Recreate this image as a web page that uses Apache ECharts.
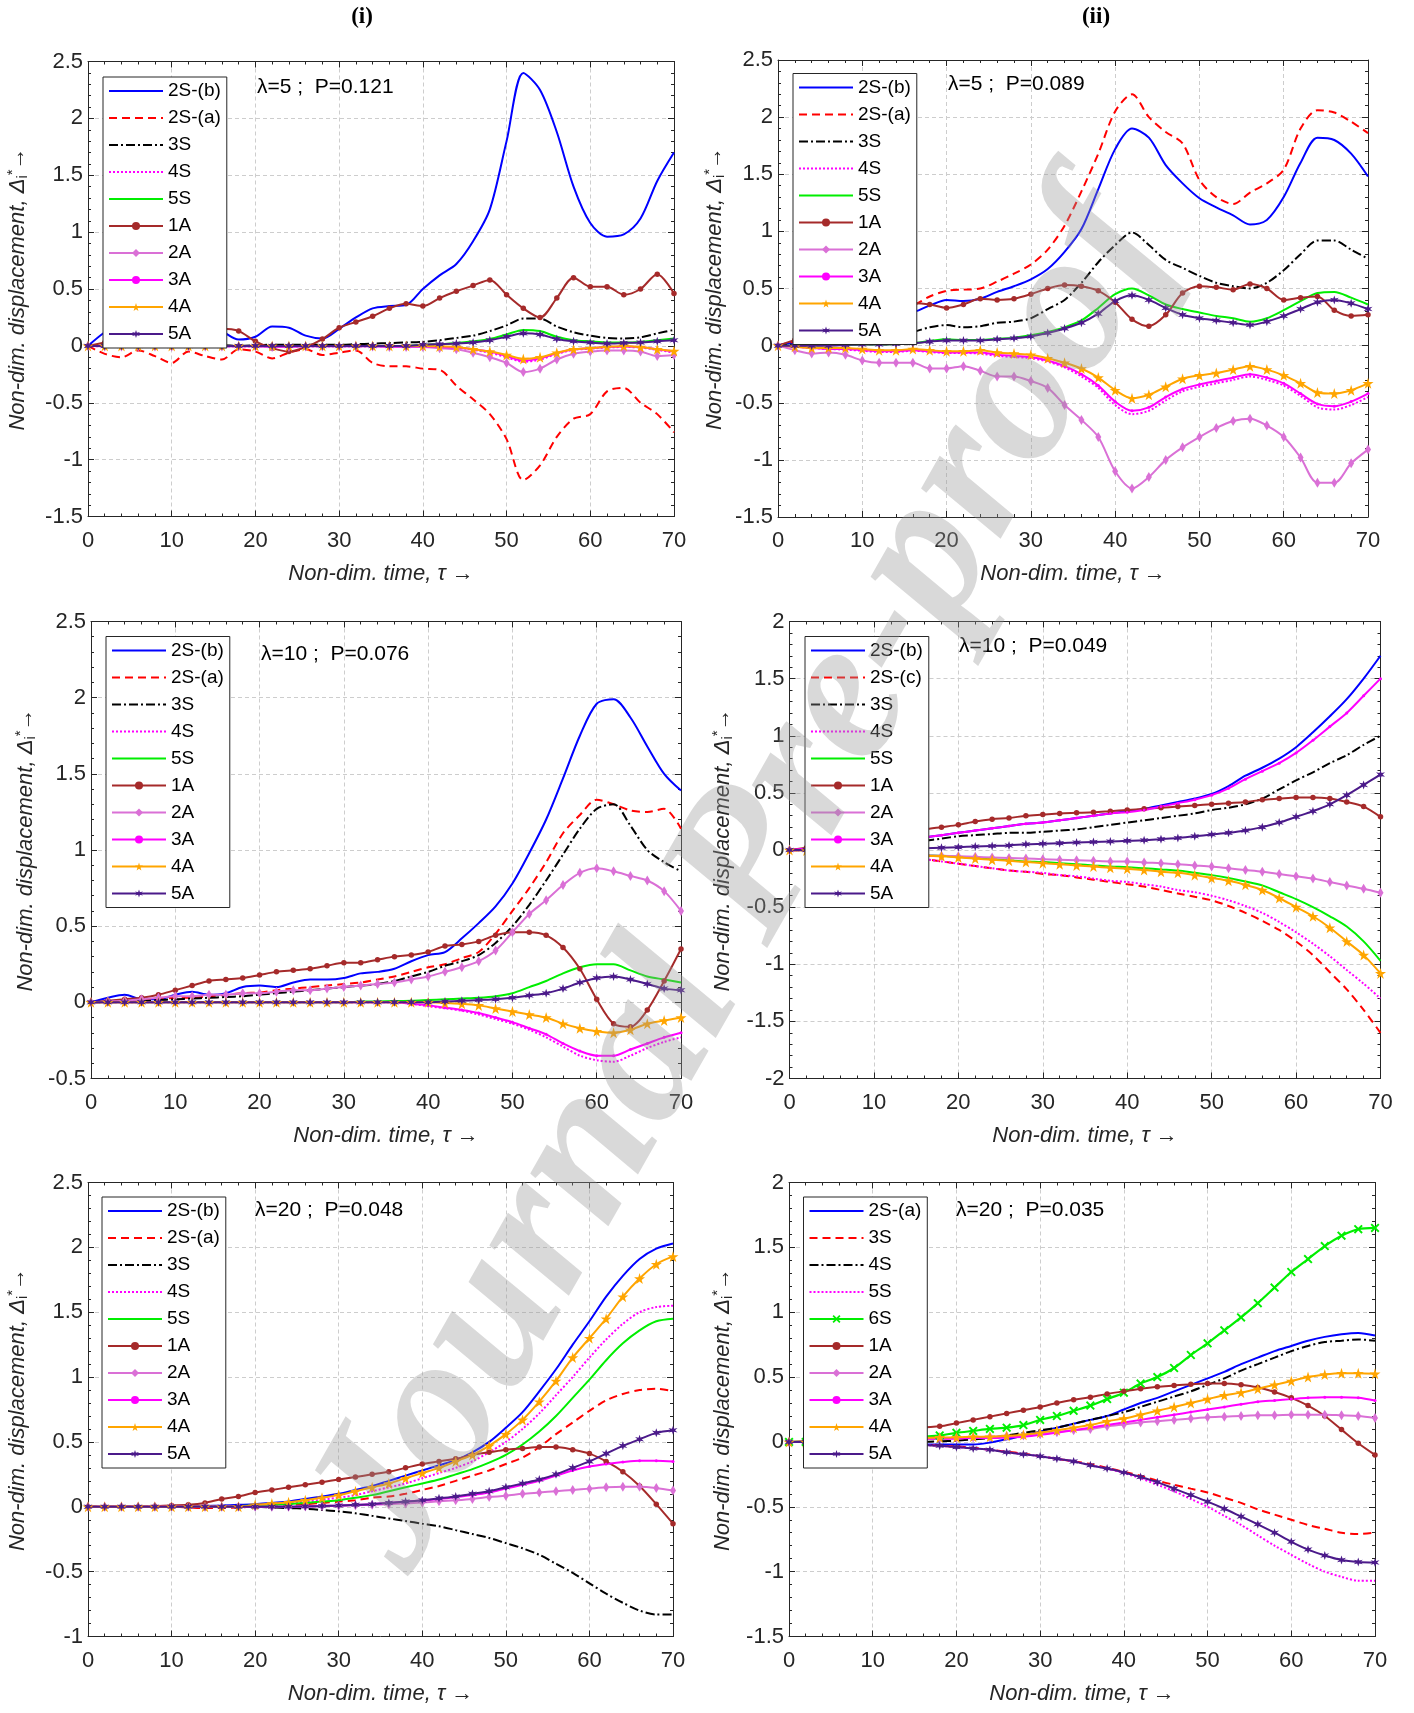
<!DOCTYPE html>
<html>
<head>
<meta charset="utf-8">
<script src="https://cdn.jsdelivr.net/npm/echarts@6/dist/echarts.min.js"></script>
<style>
html,body{margin:0;padding:0;background:#fff}
#chart{width:1414px;height:1713px}
</style>
</head>
<body>
<div id="chart"></div>
<script>
// Non-dimensional time samples shared by every panel
const tau = [0,2,4,6,8,10,12,14,16,18,20,22,24,26,28,30,32,34,36,38,40,42,44,46,48,50,52,54,56,58,60,62,64,66,68,70];
const xTicks = [0,10,20,30,40,50,60,70];

// ---- (i) lambda=5, P=0.121 ----
const p1_2Sb = [0,0.12,0.2,0.22,0.2,0.17,0.2,0.2,0.13,0.055,0.08,0.17,0.16,0.09,0.065,0.15,0.25,0.33,0.35,0.36,0.5,0.62,0.72,0.92,1.2,1.8,2.4,2.25,1.88,1.4,1.08,0.96,0.98,1.12,1.45,1.7];
const p1_2Sa = [0,-0.07,-0.1,-0.04,-0.09,-0.15,-0.05,-0.09,-0.12,-0.03,-0.05,-0.11,-0.06,-0.03,-0.08,-0.06,-0.04,-0.15,-0.18,-0.18,-0.2,-0.21,-0.35,-0.47,-0.6,-0.82,-1.18,-1.05,-0.8,-0.64,-0.6,-0.4,-0.37,-0.5,-0.6,-0.76];
const p1_3S  = [0,0,0.005,0,0.005,0,0.005,0,0.005,0,0.005,0.01,0.01,0.01,0.01,0.01,0.015,0.02,0.025,0.03,0.035,0.05,0.07,0.09,0.13,0.18,0.24,0.24,0.17,0.12,0.09,0.07,0.065,0.075,0.11,0.14];
const p1_4S  = [0,-0.005,-0.005,-0.005,-0.005,-0.005,-0.005,-0.005,-0.005,-0.005,-0.005,-0.005,-0.01,-0.005,-0.005,-0.005,-0.005,-0.005,-0.005,-0.005,-0.005,-0.01,-0.015,-0.035,-0.06,-0.1,-0.14,-0.12,-0.07,-0.035,-0.025,-0.015,-0.01,-0.015,-0.035,-0.06];
const p1_5S  = [0,0,0,0,0,0,0,0,0,0,0,0,0,0,0,0,0,0,0,0,0.01,0.015,0.025,0.04,0.06,0.1,0.14,0.13,0.08,0.05,0.04,0.03,0.03,0.035,0.05,0.065];
const p1_1A  = [0,0.03,0.06,0.08,0.1,0.12,0.13,0.15,0.15,0.13,0.04,-0.02,-0.05,-0.01,0.06,0.16,0.21,0.26,0.33,0.37,0.35,0.42,0.48,0.53,0.58,0.45,0.33,0.25,0.42,0.6,0.52,0.52,0.45,0.5,0.63,0.46];
const p1_2A  = [0,-0.005,-0.005,-0.005,-0.005,-0.005,-0.005,-0.005,-0.005,-0.005,-0.005,-0.01,-0.01,-0.005,-0.005,-0.005,-0.005,-0.005,-0.01,-0.01,-0.01,-0.02,-0.03,-0.06,-0.1,-0.15,-0.23,-0.2,-0.12,-0.07,-0.05,-0.04,-0.04,-0.05,-0.09,-0.08];
const p1_3A  = [0,0,0,0,0,0,0,0,0,0,0,-0.005,-0.005,0,0,0,0,0,-0.005,-0.005,-0.005,-0.01,-0.015,-0.03,-0.05,-0.09,-0.13,-0.11,-0.065,-0.03,-0.02,-0.01,-0.005,-0.01,-0.03,-0.05];
const p1_4A  = [0,0,0,0,0,0,0,0,0,0,0,0,0,0,0,0,0,0,0,0,0,-0.005,-0.01,-0.03,-0.05,-0.08,-0.115,-0.1,-0.06,-0.03,-0.02,-0.01,0,-0.01,-0.03,-0.045];
const p1_5A  = [0,0,0,0,0,0,0,0,0,0,0,0,0,0,0,0,0,0,0,0,0.01,0.015,0.02,0.03,0.05,0.08,0.11,0.1,0.06,0.04,0.03,0.02,0.025,0.03,0.04,0.05];

// ---- (ii) lambda=5, P=0.089 ----
const p2_2Sb = [0,0.03,0.06,0.09,0.12,0.15,0.19,0.24,0.29,0.35,0.4,0.39,0.41,0.47,0.52,0.58,0.67,0.82,1.02,1.37,1.72,1.9,1.82,1.58,1.42,1.29,1.21,1.14,1.06,1.1,1.3,1.6,1.82,1.8,1.68,1.48];
const p2_2Sa = [0,0.04,0.08,0.12,0.16,0.2,0.24,0.3,0.35,0.43,0.48,0.49,0.5,0.56,0.63,0.71,0.84,1.05,1.35,1.68,2.05,2.2,2.0,1.87,1.77,1.45,1.3,1.24,1.34,1.42,1.54,1.9,2.06,2.04,1.96,1.86];
const p2_3S  = [0,0.01,0.02,0.03,0.04,0.05,0.07,0.1,0.12,0.16,0.18,0.16,0.17,0.2,0.21,0.24,0.32,0.4,0.55,0.73,0.88,0.99,0.88,0.75,0.68,0.61,0.55,0.52,0.5,0.55,0.66,0.8,0.92,0.92,0.84,0.76];
const p2_4S  = [0,-0.01,-0.02,-0.03,-0.035,-0.045,-0.055,-0.055,-0.045,-0.055,-0.065,-0.065,-0.07,-0.09,-0.1,-0.11,-0.14,-0.19,-0.27,-0.37,-0.52,-0.6,-0.57,-0.48,-0.4,-0.36,-0.33,-0.3,-0.27,-0.3,-0.35,-0.44,-0.54,-0.56,-0.52,-0.45];
const p2_5S  = [0,0,0,0.005,0.005,0.01,0.01,0.015,0.02,0.04,0.055,0.05,0.05,0.06,0.07,0.09,0.12,0.16,0.22,0.33,0.45,0.5,0.44,0.36,0.32,0.29,0.26,0.24,0.21,0.24,0.31,0.39,0.46,0.47,0.42,0.36];
const p2_1A  = [0,0.05,0.1,0.15,0.2,0.25,0.3,0.35,0.37,0.36,0.33,0.36,0.41,0.4,0.41,0.45,0.5,0.53,0.52,0.48,0.38,0.23,0.17,0.27,0.46,0.52,0.51,0.49,0.54,0.5,0.4,0.42,0.43,0.31,0.26,0.27];
const p2_2A  = [0,-0.04,-0.07,-0.06,-0.08,-0.13,-0.15,-0.15,-0.15,-0.2,-0.2,-0.18,-0.22,-0.27,-0.27,-0.31,-0.37,-0.52,-0.65,-0.8,-1.1,-1.25,-1.15,-1.0,-0.89,-0.8,-0.72,-0.66,-0.64,-0.7,-0.8,-0.98,-1.2,-1.2,-1.03,-0.91];
const p2_3A  = [0,-0.01,-0.02,-0.03,-0.03,-0.04,-0.05,-0.05,-0.04,-0.05,-0.06,-0.06,-0.06,-0.08,-0.09,-0.1,-0.13,-0.18,-0.25,-0.35,-0.49,-0.57,-0.54,-0.45,-0.38,-0.34,-0.31,-0.28,-0.25,-0.28,-0.33,-0.42,-0.51,-0.53,-0.49,-0.42];
const p2_4A  = [0,-0.01,-0.02,-0.02,-0.02,-0.03,-0.04,-0.04,-0.03,-0.04,-0.05,-0.05,-0.04,-0.06,-0.07,-0.08,-0.11,-0.15,-0.2,-0.28,-0.39,-0.46,-0.43,-0.36,-0.29,-0.26,-0.24,-0.21,-0.18,-0.21,-0.26,-0.33,-0.41,-0.42,-0.39,-0.33];
const p2_5A  = [0,0,0,0,0.005,0.01,0.01,0.015,0.02,0.035,0.045,0.045,0.045,0.055,0.065,0.08,0.11,0.15,0.2,0.28,0.39,0.44,0.4,0.33,0.27,0.24,0.22,0.2,0.18,0.21,0.26,0.32,0.38,0.4,0.37,0.32];

// ---- (iii) lambda=10, P=0.076 ----
const p3_2Sb = [0,0.03,0.05,0.02,0.02,0.05,0.07,0.05,0.06,0.1,0.11,0.1,0.13,0.15,0.15,0.16,0.19,0.2,0.22,0.27,0.31,0.33,0.42,0.52,0.63,0.78,0.98,1.2,1.47,1.75,1.96,1.99,1.87,1.68,1.5,1.39];
const p3_2Sa = [0,0.005,0.01,0.02,0.02,0.03,0.03,0.04,0.05,0.06,0.065,0.08,0.09,0.1,0.11,0.12,0.13,0.15,0.17,0.2,0.23,0.25,0.29,0.33,0.45,0.6,0.75,0.92,1.11,1.23,1.33,1.3,1.26,1.25,1.27,1.14];
const p3_3S  = [0,0,0.005,0.01,0.015,0.02,0.025,0.03,0.035,0.04,0.05,0.06,0.07,0.08,0.09,0.1,0.11,0.12,0.14,0.17,0.2,0.24,0.27,0.31,0.39,0.5,0.64,0.8,0.97,1.14,1.27,1.3,1.16,1.0,0.92,0.86];
const p3_4S  = [0,0,0,0,0,0,0,0,0,0,0,0,0,0,0,0,0,0,0,-0.01,-0.025,-0.04,-0.055,-0.08,-0.11,-0.14,-0.18,-0.23,-0.29,-0.35,-0.38,-0.39,-0.35,-0.3,-0.26,-0.23];
const p3_5S  = [0,0,0,0,0,0,0,0,0,0,0,0,0,0,0,0,0.005,0.006,0.008,0.01,0.015,0.02,0.025,0.03,0.04,0.06,0.1,0.14,0.19,0.23,0.25,0.25,0.21,0.17,0.15,0.13];
const p3_1A  = [0,0.01,0.02,0.03,0.05,0.08,0.11,0.14,0.15,0.16,0.18,0.2,0.21,0.22,0.24,0.26,0.26,0.28,0.3,0.31,0.33,0.37,0.38,0.4,0.44,0.46,0.46,0.44,0.36,0.22,0.02,-0.14,-0.16,-0.05,0.14,0.35];
const p3_2A  = [0,0.005,0.01,0.02,0.03,0.04,0.04,0.05,0.05,0.06,0.06,0.07,0.08,0.08,0.09,0.1,0.11,0.12,0.13,0.15,0.17,0.2,0.23,0.27,0.34,0.46,0.58,0.67,0.77,0.85,0.88,0.86,0.83,0.8,0.73,0.6];
const p3_3A  = [0,0,0,0,0,0,0,0,0,0,0,0,0,0,0,0,0,0,0,-0.01,-0.02,-0.035,-0.05,-0.07,-0.1,-0.13,-0.17,-0.21,-0.27,-0.32,-0.35,-0.35,-0.31,-0.27,-0.23,-0.2];
const p3_4A  = [0,0,0,0,0,0,0,0,0,0,0,0,0,0,0,0,0,0,0,0,0,-0.005,-0.01,-0.02,-0.04,-0.06,-0.08,-0.1,-0.14,-0.17,-0.19,-0.2,-0.18,-0.14,-0.12,-0.1];
const p3_5A  = [0,0,0,0,0,0,0,0,0,0,0,0,0,0,0,0,0,0,0,0,0,0.005,0.01,0.015,0.02,0.03,0.045,0.06,0.09,0.13,0.16,0.17,0.15,0.12,0.09,0.08];

// ---- (iv) lambda=10, P=0.049 ----
const p4_2Sb = [0,0.01,0.02,0.03,0.04,0.06,0.07,0.09,0.11,0.13,0.15,0.17,0.19,0.21,0.23,0.24,0.26,0.28,0.3,0.32,0.34,0.36,0.39,0.42,0.45,0.49,0.56,0.65,0.72,0.8,0.9,1.03,1.17,1.32,1.5,1.7];
const p4_2Sc = [0,-0.01,-0.02,-0.03,-0.04,-0.05,-0.06,-0.07,-0.08,-0.1,-0.12,-0.14,-0.16,-0.18,-0.19,-0.21,-0.22,-0.24,-0.26,-0.28,-0.3,-0.32,-0.35,-0.38,-0.41,-0.44,-0.49,-0.55,-0.62,-0.7,-0.8,-0.92,-1.07,-1.22,-1.4,-1.6];
const p4_3S  = [0,0.005,0.01,0.02,0.03,0.04,0.05,0.06,0.08,0.1,0.12,0.13,0.14,0.15,0.15,0.16,0.17,0.18,0.2,0.22,0.24,0.26,0.28,0.3,0.32,0.35,0.37,0.4,0.45,0.53,0.61,0.68,0.76,0.83,0.92,1.0];
const p4_4S  = [0,-0.01,-0.02,-0.03,-0.04,-0.05,-0.06,-0.07,-0.08,-0.1,-0.12,-0.14,-0.16,-0.18,-0.19,-0.2,-0.22,-0.23,-0.25,-0.27,-0.28,-0.3,-0.32,-0.35,-0.37,-0.4,-0.44,-0.49,-0.55,-0.63,-0.72,-0.82,-0.93,-1.05,-1.17,-1.3];
const p4_5S  = [0,-0.005,-0.01,-0.015,-0.02,-0.025,-0.03,-0.035,-0.045,-0.05,-0.06,-0.07,-0.08,-0.09,-0.1,-0.105,-0.115,-0.125,-0.135,-0.145,-0.15,-0.16,-0.17,-0.18,-0.2,-0.22,-0.245,-0.275,-0.31,-0.37,-0.43,-0.5,-0.58,-0.67,-0.8,-0.97];
const p4_1A  = [0,0.02,0.04,0.06,0.08,0.1,0.13,0.15,0.18,0.2,0.22,0.25,0.27,0.28,0.3,0.31,0.32,0.325,0.33,0.34,0.35,0.36,0.37,0.38,0.39,0.4,0.41,0.42,0.44,0.45,0.46,0.46,0.45,0.42,0.38,0.29];
const p4_2A  = [0,-0.005,-0.01,-0.015,-0.02,-0.03,-0.035,-0.04,-0.045,-0.05,-0.055,-0.06,-0.065,-0.07,-0.075,-0.08,-0.085,-0.09,-0.095,-0.1,-0.1,-0.11,-0.115,-0.125,-0.135,-0.145,-0.16,-0.175,-0.19,-0.21,-0.23,-0.25,-0.28,-0.31,-0.34,-0.375];
const p4_3A  = [0,0.01,0.02,0.03,0.04,0.06,0.07,0.09,0.11,0.13,0.15,0.17,0.19,0.21,0.23,0.24,0.26,0.28,0.3,0.32,0.33,0.35,0.38,0.41,0.44,0.48,0.54,0.62,0.69,0.76,0.85,0.96,1.08,1.2,1.35,1.5];
const p4_4A  = [0,-0.005,-0.01,-0.015,-0.02,-0.03,-0.035,-0.04,-0.05,-0.055,-0.065,-0.075,-0.085,-0.095,-0.105,-0.115,-0.125,-0.135,-0.145,-0.155,-0.165,-0.175,-0.19,-0.2,-0.22,-0.245,-0.27,-0.305,-0.35,-0.42,-0.5,-0.58,-0.68,-0.8,-0.92,-1.08];
const p4_5A  = [0,0,0,0.005,0.005,0.01,0.01,0.01,0.015,0.02,0.025,0.03,0.035,0.04,0.05,0.055,0.06,0.065,0.07,0.075,0.08,0.085,0.095,0.105,0.12,0.135,0.15,0.17,0.2,0.24,0.29,0.34,0.4,0.48,0.57,0.66];

// ---- (v) lambda=20, P=0.048 ----
const p5_2Sb = [0,0,0,0,0,0.002,0.004,0.006,0.01,0.015,0.02,0.03,0.04,0.06,0.08,0.1,0.13,0.16,0.2,0.24,0.28,0.32,0.36,0.42,0.5,0.61,0.73,0.89,1.06,1.25,1.43,1.62,1.78,1.91,1.99,2.03];
const p5_2Sa = [0,0,0,0,0,0,-0.005,-0.01,-0.01,-0.005,0,0.005,0.01,0.02,0.03,0.04,0.05,0.07,0.08,0.1,0.13,0.16,0.2,0.24,0.28,0.33,0.38,0.46,0.56,0.65,0.74,0.82,0.87,0.9,0.91,0.89];
const p5_3S  = [0,0,0,0,0,0,0,0,0,0,0,-0.005,-0.01,-0.015,-0.025,-0.035,-0.05,-0.07,-0.09,-0.11,-0.13,-0.15,-0.18,-0.21,-0.24,-0.28,-0.32,-0.37,-0.44,-0.51,-0.59,-0.67,-0.74,-0.8,-0.83,-0.83];
const p5_4S  = [0,0,0,0,0,0,0,0,0,0.005,0.01,0.02,0.03,0.04,0.055,0.07,0.09,0.12,0.15,0.18,0.22,0.26,0.3,0.35,0.42,0.5,0.6,0.72,0.86,1.0,1.15,1.29,1.41,1.5,1.54,1.55];
const p5_5S  = [0,0,0,0,0,0,0,0,0,0.005,0.01,0.015,0.02,0.03,0.04,0.05,0.07,0.09,0.12,0.15,0.18,0.21,0.25,0.29,0.34,0.4,0.48,0.58,0.7,0.84,0.98,1.13,1.26,1.36,1.43,1.45];
const p5_1A  = [0,0,0,0,0.005,0.01,0.015,0.03,0.06,0.08,0.11,0.13,0.15,0.17,0.19,0.21,0.23,0.25,0.27,0.3,0.33,0.35,0.37,0.4,0.42,0.44,0.45,0.46,0.46,0.44,0.41,0.35,0.27,0.16,0.02,-0.13];
const p5_2A  = [0,0,0,0,0,0,0,0,0,0,0,0,0,0.003,0.005,0.008,0.012,0.016,0.02,0.026,0.033,0.042,0.05,0.06,0.075,0.085,0.1,0.11,0.12,0.13,0.14,0.15,0.155,0.155,0.145,0.125];
const p5_3A  = [0,0,0,0,0,0,0,0,0,0,0,0,0,0.003,0.006,0.01,0.015,0.02,0.03,0.04,0.05,0.06,0.075,0.09,0.11,0.14,0.17,0.2,0.24,0.28,0.31,0.33,0.345,0.355,0.355,0.35];
const p5_4A  = [0,0,0,0,0,0,0,0,0,0,0.015,0.025,0.035,0.05,0.07,0.09,0.12,0.15,0.18,0.22,0.26,0.3,0.35,0.4,0.47,0.56,0.67,0.81,0.97,1.15,1.3,1.45,1.62,1.76,1.87,1.93];
const p5_5A  = [0,0,0,0,0,0,0,0,0,0,0,0,0,0.003,0.006,0.01,0.015,0.02,0.03,0.04,0.05,0.065,0.08,0.1,0.12,0.15,0.18,0.21,0.25,0.3,0.35,0.41,0.47,0.52,0.57,0.59];

// ---- (vi) lambda=20, P=0.035 ----
const p6_2Sa = [0,0,0,0,-0.005,-0.01,-0.015,-0.02,-0.02,-0.02,-0.02,-0.02,-0.005,0.02,0.05,0.08,0.11,0.14,0.17,0.2,0.25,0.3,0.34,0.39,0.44,0.49,0.54,0.6,0.65,0.7,0.74,0.78,0.81,0.83,0.84,0.82];
const p6_3S  = [0,0,0,-0.005,-0.005,-0.01,-0.015,-0.02,-0.02,-0.03,-0.035,-0.045,-0.06,-0.075,-0.09,-0.11,-0.13,-0.15,-0.17,-0.2,-0.23,-0.26,-0.3,-0.33,-0.36,-0.39,-0.43,-0.47,-0.52,-0.56,-0.6,-0.64,-0.67,-0.7,-0.71,-0.7];
const p6_4S  = [0,0,0,0,0,0,0,0,0,0.005,0.01,0.02,0.03,0.05,0.07,0.09,0.11,0.14,0.17,0.2,0.23,0.27,0.31,0.35,0.39,0.44,0.49,0.55,0.6,0.65,0.7,0.74,0.77,0.78,0.79,0.78];
const p6_5S  = [0,0,0,-0.005,-0.005,-0.01,-0.015,-0.02,-0.025,-0.03,-0.04,-0.05,-0.06,-0.08,-0.095,-0.11,-0.13,-0.15,-0.18,-0.205,-0.24,-0.28,-0.33,-0.38,-0.44,-0.5,-0.57,-0.64,-0.72,-0.8,-0.87,-0.94,-1.0,-1.04,-1.07,-1.07];
const p6_6S  = [0,0,0.005,0.01,0.015,0.02,0.025,0.03,0.04,0.05,0.07,0.085,0.1,0.11,0.13,0.17,0.2,0.24,0.28,0.33,0.38,0.45,0.5,0.57,0.67,0.76,0.86,0.96,1.07,1.19,1.31,1.41,1.51,1.59,1.64,1.65];
const p6_1A  = [0,0.005,0.01,0.02,0.03,0.05,0.07,0.09,0.11,0.12,0.145,0.17,0.195,0.22,0.245,0.27,0.3,0.325,0.345,0.37,0.39,0.41,0.425,0.435,0.445,0.45,0.45,0.44,0.42,0.385,0.34,0.28,0.2,0.095,-0.01,-0.1];
const p6_2A  = [0,0,0.005,0.01,0.01,0.015,0.02,0.02,0.025,0.025,0.03,0.035,0.04,0.045,0.05,0.06,0.075,0.09,0.1,0.12,0.135,0.15,0.16,0.17,0.18,0.19,0.195,0.2,0.205,0.205,0.21,0.21,0.21,0.205,0.2,0.185];
const p6_3A  = [0,0,0.005,0.01,0.01,0.015,0.02,0.02,0.025,0.025,0.025,0.03,0.03,0.035,0.04,0.055,0.07,0.09,0.11,0.13,0.15,0.17,0.19,0.21,0.23,0.25,0.27,0.29,0.31,0.32,0.33,0.34,0.345,0.345,0.34,0.32];
const p6_4A  = [0,0,0.005,0.01,0.015,0.02,0.025,0.03,0.03,0.035,0.035,0.04,0.04,0.045,0.055,0.07,0.09,0.11,0.13,0.16,0.18,0.21,0.24,0.27,0.3,0.33,0.36,0.38,0.41,0.44,0.47,0.5,0.52,0.53,0.53,0.525];
const p6_5A  = [0,0,0,-0.005,-0.005,-0.01,-0.015,-0.02,-0.025,-0.03,-0.04,-0.05,-0.06,-0.08,-0.095,-0.11,-0.13,-0.15,-0.18,-0.205,-0.235,-0.27,-0.31,-0.36,-0.41,-0.46,-0.515,-0.575,-0.635,-0.7,-0.77,-0.83,-0.875,-0.91,-0.925,-0.93];

// Marker shapes
const STAR5 = 'path://M50,0L61,35L98,35L68,57L79,91L50,70L21,91L32,57L2,35L39,35Z';
const STAR6 = 'path://M50,0L60,33L93,25L70,50L93,75L60,67L50,100L40,67L7,75L30,50L7,25L40,33Z';
const XMARK = 'path://M0,3L3,0L10,7L17,0L20,3L13,10L20,17L17,20L10,13L3,20L0,17L7,10Z';

// Line/marker styles
const STY = {
  blue:  {color:'#0000ff', type:'solid', width:2},
  red:   {color:'#ff0000', type:[8,5], width:2},
  black: {color:'#000000', type:[9,3,2,3], width:2},
  mag:   {color:'#ff00ff', type:[2,2], width:2},
  green: {color:'#00ee00', type:'solid', width:2},
  m1A:   {color:'#a52a2a', type:'solid', width:2, symbol:'circle', size:5.5},
  m2A:   {color:'#da70d6', type:'solid', width:2, symbol:'diamond', size:[6,10]},
  m3A:   {color:'#ff00ff', type:'solid', width:2, symbol:'circle', size:3},
  m4A:   {color:'#ffa500', type:'solid', width:2, symbol:STAR5, size:11},
  m5A:   {color:'#4b1a8a', type:'solid', width:2, symbol:STAR6, size:9},
  m6S:   {color:'#00ee00', type:'solid', width:2.2, symbol:XMARK, size:9}
};

const STD = (a) => [
  ['2S-(b)', a[0], 'blue'], ['2S-(a)', a[1], 'red'], ['3S', a[2], 'black'],
  ['4S', a[3], 'mag'], ['5S', a[4], 'green'], ['1A', a[5], 'm1A'],
  ['2A', a[6], 'm2A'], ['3A', a[7], 'm3A'], ['4A', a[8], 'm4A'], ['5A', a[9], 'm5A']
];

const panels = [
  {box:[88,61.5,586,455], y:[-1.5,2.5], legend:[103,77], note:'λ=5 ;  P=0.121', noteAt:[257,87], yt:18,
   lines: STD([p1_2Sb,p1_2Sa,p1_3S,p1_4S,p1_5S,p1_1A,p1_2A,p1_3A,p1_4A,p1_5A])},
  {box:[778,60,590,457], y:[-1.5,2.5], legend:[793,73.5], note:'λ=5 ;  P=0.089', noteAt:[948,84], yt:715,
   lines: STD([p2_2Sb,p2_2Sa,p2_3S,p2_4S,p2_5S,p2_1A,p2_2A,p2_3A,p2_4A,p2_5A])},
  {box:[91,621.5,590,457], y:[-0.5,2.5], legend:[106,636.5], note:'λ=10 ;  P=0.076', noteAt:[261,654], yt:26,
   lines: STD([p3_2Sb,p3_2Sa,p3_3S,p3_4S,p3_5S,p3_1A,p3_2A,p3_3A,p3_4A,p3_5A])},
  {box:[789.5,621.5,591,457], y:[-2,2], legend:[805,636.5], note:'λ=10 ;  P=0.049', noteAt:[959,646], yt:723,
   lines: [['2S-(b)',p4_2Sb,'blue'],['2S-(c)',p4_2Sc,'red'],['3S',p4_3S,'black'],['4S',p4_4S,'mag'],['5S',p4_5S,'green'],
           ['1A',p4_1A,'m1A'],['2A',p4_2A,'m2A'],['3A',p4_3A,'m3A'],['4A',p4_4A,'m4A'],['5A',p4_5A,'m5A']]},
  {box:[88,1182.5,585,454], y:[-1,2.5], legend:[102,1197], note:'λ=20 ;  P=0.048', noteAt:[255,1210], yt:18,
   lines: STD([p5_2Sb,p5_2Sa,p5_3S,p5_4S,p5_5S,p5_1A,p5_2A,p5_3A,p5_4A,p5_5A])},
  {box:[789,1182.5,586,454], y:[-1.5,2], legend:[803.5,1197], note:'λ=20 ;  P=0.035', noteAt:[956,1210], yt:723,
   lines: [['2S-(a)',p6_2Sa,'blue'],['3S',p6_3S,'red'],['4S',p6_4S,'black'],['5S',p6_5S,'mag'],['6S',p6_6S,'m6S'],
           ['1A',p6_1A,'m1A'],['2A',p6_2A,'m2A'],['3A',p6_3A,'m3A'],['4A',p6_4A,'m4A'],['5A',p6_5A,'m5A']]}
];

const AX = '#262626';
const FONT = '"Liberation Sans", Arial, sans-serif';
const grid = [], xAxis = [], yAxis = [], series = [], legend = [], graphic = [];

panels.forEach((p, k) => {
  const [L, T, W, H] = p.box;
  grid.push({left:L, top:T, width:W, height:H, containLabel:false});
  const tickBase = {show:true, inside:true, length:6, lineStyle:{color:AX, width:1}};
  const minor = (n) => ({show:true, splitNumber:n, length:3, lineStyle:{color:AX, width:1}});
  const axisLine = {show:true, onZero:false, lineStyle:{color:AX, width:1}};
  const split = {show:true, lineStyle:{color:'#cdcdcd', width:1, type:[4,3]}};
  xAxis.push({type:'value', gridIndex:k, position:'bottom', min:xTicks[0], max:xTicks[xTicks.length-1], interval:10,
    axisLine, axisTick:tickBase, minorTick:minor(5), splitLine:split,
    axisLabel:{show:true, margin:13, fontSize:22, color:AX, fontFamily:FONT}});
  xAxis.push({type:'value', gridIndex:k, position:'top', min:0, max:70, interval:10,
    axisLine, axisTick:tickBase, minorTick:minor(5), splitLine:{show:false}, axisLabel:{show:false}});
  yAxis.push({type:'value', gridIndex:k, position:'left', min:p.y[0], max:p.y[1], interval:0.5,
    axisLine, axisTick:tickBase, minorTick:minor(5), splitLine:split,
    axisLabel:{show:true, margin:5, fontSize:22, color:AX, fontFamily:FONT}});
  yAxis.push({type:'value', gridIndex:k, position:'right', min:p.y[0], max:p.y[1], interval:0.5,
    axisLine, axisTick:tickBase, minorTick:minor(5), splitLine:{show:false}, axisLabel:{show:false}});

  const names = [];
  p.lines.forEach(([label, vals, sk]) => {
    const s = STY[sk];
    const nm = (k+1) + '|' + label;
    names.push(nm);
    series.push({
      type:'line', name:nm, xAxisIndex:2*k, yAxisIndex:2*k,
      data: tau.map((t, i) => [t, vals[i]]),
      smooth:0.3, animation:false,
      symbol: s.symbol || 'none', symbolSize: s.size || 4, showSymbol: !!s.symbol, showAllSymbol:true,
      lineStyle:{color:s.color, width:s.width, type:s.type},
      // plain curves get a transparent fill so their legend sample is a bare line
      itemStyle:{color: s.symbol ? s.color : 'rgba(0,0,0,0)', borderWidth:0},
      emphasis:{disabled:true}
    });
  });

  legend.push({
    left:p.legend[0], top:p.legend[1], orient:'vertical', data:names,
    formatter:(n) => n.split('|')[1],
    itemWidth:54, itemHeight:10, itemGap:7, padding:[4,6,4,5],
    backgroundColor:'#ffffff', borderColor:AX, borderWidth:1, borderRadius:0,
    selectedMode:false,
    textStyle:{fontSize:19, lineHeight:20, color:'#000', fontFamily:FONT}
  });

  // panel annotation
  graphic.push({type:'text', x:p.noteAt[0], y:p.noteAt[1], z:20,
    style:{text:p.note, fill:'#000', font:'21px ' + FONT, align:'left', verticalAlign:'middle'}});
  // x axis title
  graphic.push({type:'text', x:L + W/2, y:T + H + 57, z:20,
    style:{text:'Non-dim. time, τ →', fill:AX, font:'italic 22px ' + FONT, align:'center', verticalAlign:'middle'}});
  // y axis title
  graphic.push({type:'text', x:p.yt, y:T + H/2, rotation:Math.PI/2, z:20,
    style:{text:'{a|Non-dim. displacement, Δ}{s|i}{u|*}{a|→}', align:'center', verticalAlign:'middle',
      rich:{
        a:{font:'italic 22px ' + FONT, fill:AX},
        s:{font:'15px ' + FONT, fill:AX, verticalAlign:'bottom', padding:[10,0,0,0]},
        u:{font:'15px ' + FONT, fill:AX, verticalAlign:'top', padding:[0,0,10,0]}
      }}});
});

// column headings
graphic.push({type:'text', x:362, y:17, z:20, style:{text:'(i)', fill:'#000', font:'bold 23px "Liberation Serif", serif', align:'center', verticalAlign:'middle'}});
graphic.push({type:'text', x:1096, y:17, z:20, style:{text:'(ii)', fill:'#000', font:'bold 23px "Liberation Serif", serif', align:'center', verticalAlign:'middle'}});

// diagonal watermark across the figure
graphic.push({type:'text', x:745, y:880, rotation:60.3*Math.PI/180, z:100, silent:true,
  style:{text:'Journal Pre-proof', fill:'rgba(150,150,150,0.36)', font:'italic bold 205px "Liberation Serif", serif', align:'center', verticalAlign:'middle'}});

const chart = echarts.init(document.getElementById('chart'), null, {renderer:'canvas'});
chart.setOption({
  animation:false,
  backgroundColor:'#ffffff',
  grid, xAxis, yAxis, series, legend, graphic,
  tooltip:{show:false}
});
</script>
</body>
</html>
